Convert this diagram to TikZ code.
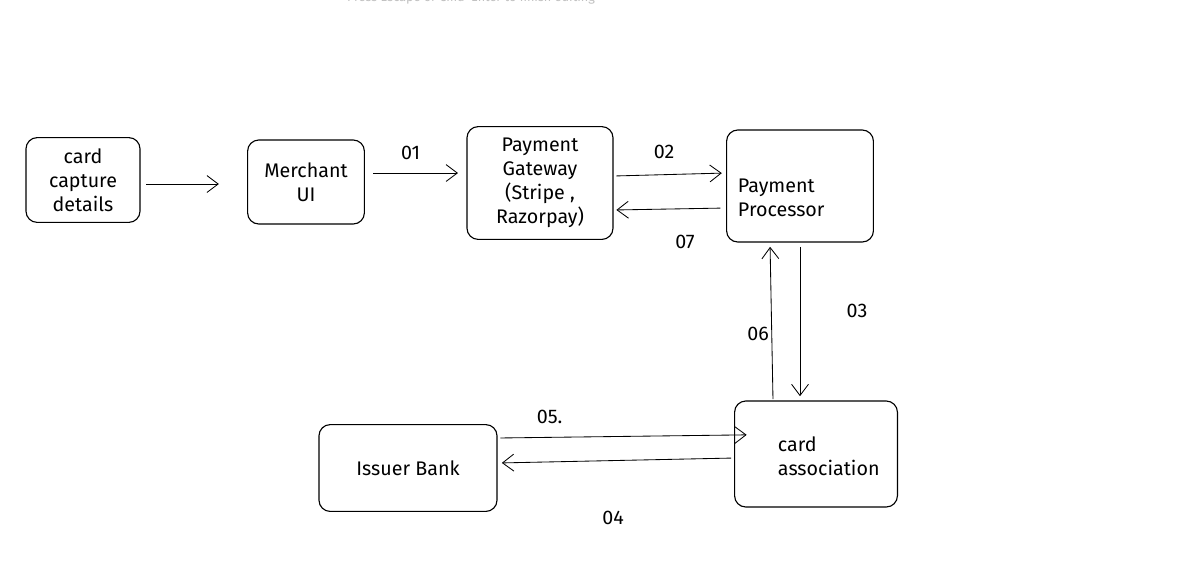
\documentclass[tikz,border=0pt]{standalone}
\usepackage{fontspec}
\setmainfont{Fira Sans}
\usetikzlibrary{positioning, arrows.meta, calc}

\begin{document}
\begin{tikzpicture}[
    x=0.025cm, y=-0.025cm,
    box/.style={draw, thick, rounded corners=8pt, align=center, font=\fontsize{14}{17}\selectfont},
    arrow/.style={-{Straight Barb[length=8pt, width=12pt]}, semithick},
    label/.style={font=\fontsize{14}{17}\selectfont}
]
\useasboundingbox (0,0) rectangle (1200,575);

% Editor hint at the top
\node[text=gray!50, font=\small] (hint) at (471,-2) {Press Escape or Cmd+Enter to finish editing};

% Boxes
\node[box, minimum width=2.85cm, minimum height=2.12cm] (cap) at (83,180) {card\\capture\\details};
\node[box, minimum width=2.92cm, minimum height=2.1cm] (mui) at (306,182) {Merchant\\UI};
\node[box, minimum width=3.65cm, minimum height=2.82cm] (pg) at (540,183) {Payment\\Gateway\\(Stripe ,\\Razorpay)};
\node[box, minimum width=3.67cm, minimum height=2.8cm] (pp) at (800,186) {};
\node[label, align=left, anchor=west] (pptext) at (733,198) {Payment\\Processor};
\node[box, minimum width=4.07cm, minimum height=2.65cm] (ca) at (816,454) {};
\node[label, align=left, anchor=west] (catext) at (773,456) {card\\association};
\node[box, minimum width=4.45cm, minimum height=2.17cm] (ib) at (408,468) {Issuer Bank};

% Connectors
\draw[arrow, shorten <=4pt, shorten >=20pt] (cap.east |- 0,184) -- (mui.west |- 0,184);
\draw[arrow, shorten <=6pt, shorten >=6pt] (mui.east |- 0,173) -- node[label, above=6pt, pos=0.45] {01} (pg.west |- 0,173);
\draw[arrow, shorten <=2pt, shorten >=3pt] (pg.east |- 0,176) -- node[label, above=8pt, pos=0.45] {02} (pp.west |- 0,173);
\draw[arrow, shorten <=4pt, shorten >=2pt] (pp.west |- 0,208) -- (pg.east |- 0,210);
\draw[arrow, shorten <=3pt, shorten >=3pt] (pp.south -| 800,0) -- (ca.north -| 800,0);
\draw[arrow, shorten <=1pt, shorten >=3pt] (ca.north -| 773,0) -- (pp.south -| 770,0);
\draw[arrow, shorten <=2pt, shorten >=-9pt] (ib.east |- 0,438) -- node[label, above=6pt, pos=0.22] {05.} (ca.west |- 0,435);
\draw[arrow, shorten <=2pt, shorten >=3pt] (ca.west |- 0,458) -- (ib.east |- 0,463);

% Step labels
\node[label] (l07) at (685,242) {07};
\node[label] (l03) at (857,311) {03};
\node[label] (l06) at (758,334) {06};
\node[label] (l04) at (613,518) {04};
\end{tikzpicture}
\end{document}
